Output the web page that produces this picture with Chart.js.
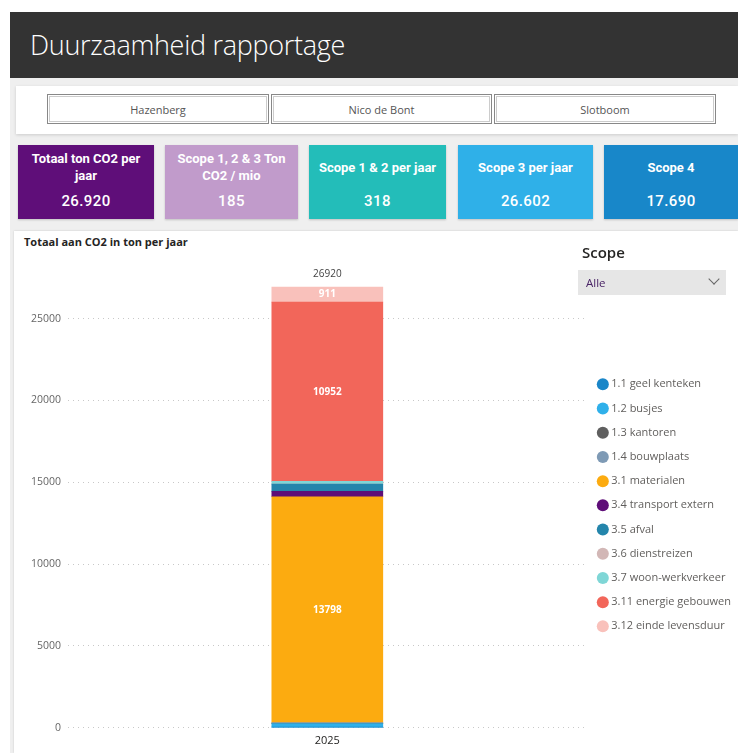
<!DOCTYPE html>
<html>
<head>
<meta charset="utf-8">
<script src="https://cdn.jsdelivr.net/npm/chart.js@4.4.1/dist/chart.umd.min.js"></script>
<style>
  body { margin: 0; width: 738px; height: 753px; background: #fff; position: relative; overflow: hidden; font-family: 'Open Sans', sans-serif; }
  .bg { position: absolute; left: 10px; top: 78px; width: 728px; height: 675px; background: #efefef; }
  .header { position: absolute; left: 10px; top: 12px; width: 728px; height: 66px; background: #333; }
  .header h1 { margin: 0; position: absolute; left: 20px; top: 14px; color: #fff; font-weight: 300; font-size: 27px; letter-spacing: -0.3px; }
  .btnpanel { position: absolute; left: 16px; top: 86px; width: 722px; height: 48px; background: #fff; box-shadow: 0 1px 3px rgba(0,0,0,0.15); }
  .btn { position: absolute; top: 8px; height: 30px; border: 1px solid #888; outline: 1px solid #ccc; outline-offset: -3px; font-size: 11px; color: #555; display: flex; align-items: center; justify-content: center; box-sizing: border-box; }
  .card { position: absolute; top: 145px; height: 74px; color: #fff; text-align: center; font-family: 'Liberation Sans Narrow', 'Roboto', sans-serif; font-weight: bold; box-shadow: 0 1px 2px rgba(0,0,0,0.2); }
  .card .t { position: absolute; left: 4px; right: 4px; top: 5px; height: 34px; display: flex; align-items: center; justify-content: center; font-size: 13px; line-height: 17px; }
  .card .v { position: absolute; left: 0; right: 0; top: 47px; font-size: 15px; font-weight: 500; letter-spacing: 0.4px; }
  .chartpanel { position: absolute; left: 14px; top: 231px; width: 724px; height: 522px; background: #fff; box-shadow: 0 0 2px rgba(0,0,0,0.15); }
  .ctitle { position: absolute; left: 24px; top: 234px; font-size: 11px; font-weight: bold; color: #252423; }
  .scope { position: absolute; left: 582px; top: 242px; font-size: 15px; font-weight: 600; color: #252423; }
  .dd { position: absolute; left: 578px; top: 270px; width: 148px; height: 25px; background: #e6e6e6; font-size: 11.5px; color: #4a2466; }
  .dd span { position: absolute; left: 8px; top: 5px; }
  .dd i { position: absolute; right: 8px; top: 5px; width: 7px; height: 7px; border-right: 1px solid #666; border-bottom: 1px solid #666; transform: rotate(45deg); }
  .wrap { position: absolute; left: 14px; top: 248px; width: 724px; height: 505px; }
</style>
</head>
<body>
<div class="bg"></div>
<div class="header"><h1>Duurzaamheid rapportage</h1></div>
<div class="btnpanel">
  <div class="btn" style="left:31px;width:222px">Hazenberg</div>
  <div class="btn" style="left:255px;width:221px">Nico de Bont</div>
  <div class="btn" style="left:478px;width:222px">Slotboom</div>
</div>
<div class="card" style="left:18px;width:136px;background:#5f0e79"><div class="t">Totaal ton CO2 per jaar</div><div class="v">26.920</div></div>
<div class="card" style="left:165px;width:133px;background:#c19bcb"><div class="t">Scope 1, 2 &amp; 3 Ton CO2 / mio</div><div class="v">185</div></div>
<div class="card" style="left:309px;width:137px;background:#23bdb9"><div class="t">Scope 1 &amp; 2 per jaar</div><div class="v">318</div></div>
<div class="card" style="left:458px;width:135px;background:#2fb0e8"><div class="t">Scope 3 per jaar</div><div class="v">26.602</div></div>
<div class="card" style="left:604px;width:134px;background:#1887c9"><div class="t">Scope 4</div><div class="v">17.690</div></div>
<div class="chartpanel"></div>
<div class="ctitle">Totaal aan CO2 in ton per jaar</div>
<div class="wrap"><canvas id="c"></canvas></div>
<div class="scope">Scope</div>
<div class="dd"><span>Alle</span><i></i></div>
<script>
const years = ['2025']
const categories = ['1.1 geel kenteken', '1.2 busjes', '1.3 kantoren', '1.4 bouwplaats', '3.1 materialen', '3.4 transport extern', '3.5 afval', '3.6 dienstreizen', '3.7 woon-werkverkeer', '3.11 energie gebouwen', '3.12 einde levensduur']
const values = [40, 215, 25, 38, 13798, 330, 440, 10, 161, 10952, 911]
const colors = ['#1a86c8', '#2fb0ea', '#5f5f5f', '#7e9ab5', '#fcab10', '#5e0e78', '#2485ab', '#d2b7b6', '#7fd6d6', '#f2665a', '#f9c1bb']
const yTicks = [0, 5000, 10000, 15000, 20000, 25000]

const labels = {
  id: 'labels',
  afterDatasetsDraw(chart) {
    const ctx = chart.ctx
    ctx.save()
    ctx.textAlign = 'center'
    ctx.textBaseline = 'middle'
    ctx.font = 'bold 10px "Open Sans"'
    ctx.fillStyle = '#fff'
    let top = null
    chart.data.datasets.forEach((ds, i) => {
      const bar = chart.getDatasetMeta(i).data[0]
      if (top === null || bar.y < top.y) top = bar
      if (ds.data[0] >= 800) ctx.fillText(ds.data[0], bar.x, (bar.y + bar.base) / 2)
    })
    const total = values.reduce((a, b) => a + b, 0)
    ctx.font = '10px "Open Sans"'
    ctx.fillStyle = '#444'
    ctx.fillText(total, top.x, top.y - 13)
    ctx.restore()
  }
}

new Chart(document.getElementById('c'), {
  type: 'bar',
  data: {
    labels: years,
    datasets: categories.map((name, i) => ({
      label: name,
      data: [values[i]],
      backgroundColor: colors[i],
      barThickness: 111
    }))
  },
  options: {
    responsive: true,
    maintainAspectRatio: false,
    animation: false,
    layout: { padding: { left: 10, top: 5.5, right: -3, bottom: 8 } },
    plugins: {
      tooltip: { enabled: false },
      legend: {
        position: 'right',
        title: { display: true, text: '', font: { size: 1 }, padding: { top: 11, bottom: 0 } },
        labels: {
          usePointStyle: true,
          pointStyle: 'circle',
          boxWidth: 6,
          boxHeight: 8.5,
          padding: 13.2,
          color: '#605e5c',
          font: { family: 'Open Sans', size: 11 }
        }
      }
    },
    scales: {
      x: {
        stacked: true,
        grid: { display: false },
        border: { display: false },
        ticks: { color: '#252423', font: { family: 'Open Sans', size: 11 }, padding: -2 }
      },
      y: {
        stacked: true,
        min: 0,
        max: 28500,
        afterBuildTicks: scale => { scale.ticks = yTicks.map(v => ({ value: v })) },
        grid: { color: '#c8c8c8', drawTicks: false },
        border: { display: false, dash: [1, 4] },
        ticks: { color: '#666', font: { family: 'Open Sans', size: 10.5 }, padding: 7, callback: v => String(v) }
      }
    }
  },
  plugins: [labels]
})
</script>
</body>
</html>
